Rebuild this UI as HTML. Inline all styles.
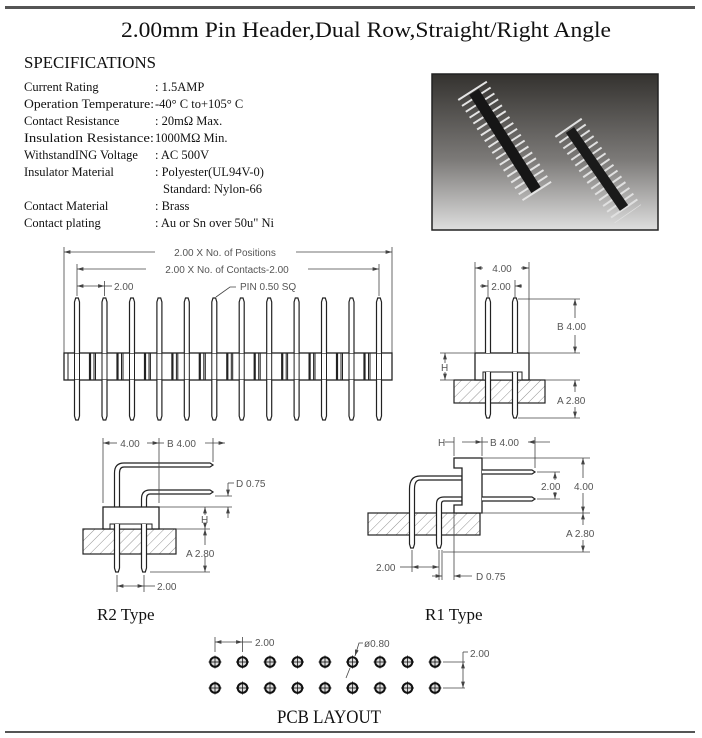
<!DOCTYPE html>
<html><head><meta charset="utf-8"><style>
html,body{margin:0;padding:0;background:#fff;}
svg{display:block;}
.t{font-family:"Liberation Serif","Noto Serif CJK SC",serif;fill:#111;}
.d{font-family:"Liberation Sans",sans-serif;font-size:10px;fill:#555;}
</style></head><body>
<svg width="702" height="738" viewBox="0 0 702 738" xmlns="http://www.w3.org/2000/svg">
<defs>
<linearGradient id="pg" x1="0" y1="0" x2="0" y2="1"><stop offset="0" stop-color="#34322f"/><stop offset="0.55" stop-color="#7c7a78"/><stop offset="1" stop-color="#dedede"/></linearGradient>
<pattern id="hatch" width="7" height="7" patternUnits="userSpaceOnUse" patternTransform="rotate(45)"><line x1="0" y1="0" x2="0" y2="7" stroke="#777" stroke-width="0.8"/></pattern>
<g id="pt"><path d="M-2.5,353 V302 L-1.3,298 H1.3 L2.5,302 V353" fill="#fff" stroke="#222" stroke-width="1.2"/></g>
<g id="pb"><path d="M-2.5,380 V416 L-1.3,420 H1.3 L2.5,416 V380" fill="#fff" stroke="#222" stroke-width="1.2"/></g>
<g id="bs" stroke="#222"><line x1="-9" y1="353" x2="-9" y2="380" stroke-width="1"/><line x1="-2.5" y1="353" x2="-2.5" y2="380" stroke-width="1"/><line x1="2.5" y1="353" x2="2.5" y2="380" stroke-width="1"/><line x1="13" y1="353" x2="13" y2="380" stroke-width="2.2"/><line x1="17" y1="353" x2="17" y2="380" stroke-width="1"/></g>
<g id="bsl" stroke="#222"><line x1="-9" y1="353" x2="-9" y2="380" stroke-width="1"/><line x1="-2.5" y1="353" x2="-2.5" y2="380" stroke-width="1"/><line x1="2.5" y1="353" x2="2.5" y2="380" stroke-width="1"/></g>
<g id="hole"><circle r="4.8" fill="#ddd" stroke="#111" stroke-width="2"/><line x1="-6.5" y1="0" x2="6.5" y2="0" stroke="#111" stroke-width="0.8"/><line x1="0" y1="-6.5" x2="0" y2="6.5" stroke="#111" stroke-width="0.8"/></g>
<marker id="ar" viewBox="0 0 10 6" refX="10" refY="3" markerWidth="8" markerHeight="5" orient="auto-start-reverse"><path d="M0,0 L10,3 L0,6z" fill="#444"/></marker>
</defs>

<rect x="5" y="6" width="690" height="3" fill="#555"/>
<rect x="5" y="731" width="690" height="2" fill="#555"/>

<text class="t" x="366" y="37" font-size="22" text-anchor="middle" textLength="490" lengthAdjust="spacingAndGlyphs">2.00mm Pin Header,Dual Row,Straight/Right Angle</text>
<text class="t" x="24" y="68" font-size="17" textLength="132" lengthAdjust="spacingAndGlyphs">SPECIFICATIONS</text>

<g class="t" font-size="12.5">
<text x="24" y="91">Current Rating</text><text x="155" y="91">: 1.5AMP</text>
<text x="24" y="108" textLength="130" lengthAdjust="spacingAndGlyphs">Operation Temperature:</text><text x="155" y="108">-40° C to+105° C</text>
<text x="24" y="125">Contact Resistance</text><text x="155" y="125">: 20mΩ Max.</text>
<text x="24" y="142" textLength="130" lengthAdjust="spacingAndGlyphs">Insulation Resistance:</text><text x="155" y="142">1000MΩ Min.</text>
<text x="24" y="159">WithstandING Voltage</text><text x="155" y="159">: AC 500V</text>
<text x="24" y="176">Insulator Material</text><text x="155" y="176">: Polyester(UL94V-0)</text>
<text x="163" y="193">Standard: Nylon-66</text>
<text x="24" y="210">Contact Material</text><text x="155" y="210">: Brass</text>
<text x="24" y="227">Contact plating</text><text x="155" y="227">: Au or Sn over 50u" Ni</text>
</g>

<!-- photo -->
<rect x="432" y="74" width="226" height="156" fill="url(#pg)" stroke="#222" stroke-width="1.5"/>
<g>
<line x1="472" y1="90" x2="540" y2="196" stroke="#e4e4e4" stroke-width="34" stroke-dasharray="2 5"/>
<line x1="474" y1="92" x2="536" y2="190" stroke="#161616" stroke-width="11"/>
<line x1="568" y1="127" x2="628" y2="214" stroke="#e0e0e0" stroke-width="32" stroke-dasharray="2 5"/>
<line x1="570" y1="130" x2="624" y2="208" stroke="#1a1a1a" stroke-width="10"/>
</g>

<!-- front view -->
<g stroke="#444" stroke-width="0.8" fill="none">
<line x1="64" y1="247" x2="64" y2="353"/><line x1="392" y1="247" x2="392" y2="353"/>
<line x1="64" y1="252" x2="155" y2="252" marker-start="url(#ar)"/><line x1="296" y1="252" x2="392" y2="252" marker-end="url(#ar)"/>
<line x1="77" y1="264" x2="77" y2="296"/><line x1="379" y1="264" x2="379" y2="296"/>
<line x1="77" y1="269" x2="146" y2="269" marker-start="url(#ar)"/><line x1="308" y1="269" x2="379" y2="269" marker-end="url(#ar)"/>
<line x1="104.5" y1="281" x2="104.5" y2="296"/>
<line x1="77" y1="286" x2="104.5" y2="286" marker-start="url(#ar)" marker-end="url(#ar)"/><line x1="104.5" y1="286" x2="112" y2="286"/>
<path d="M236,287 H230 L216,297"/>
</g>
<text class="d" x="225" y="256" text-anchor="middle">2.00 X No. of Positions</text>
<text class="d" x="227" y="273" text-anchor="middle">2.00 X No. of Contacts-2.00</text>
<text class="d" x="114" y="290">2.00</text>
<text class="d" x="240" y="290">PIN 0.50 SQ</text>
<rect x="64" y="353" width="328" height="27" fill="#fff" stroke="#222" stroke-width="1.3"/>
<g>
<use href="#bs" x="77"/><use href="#bs" x="104.5"/><use href="#bs" x="132"/><use href="#bs" x="159.4"/><use href="#bs" x="186.8"/><use href="#bs" x="214.3"/><use href="#bs" x="241.7"/><use href="#bs" x="269.2"/><use href="#bs" x="296.6"/><use href="#bs" x="324"/><use href="#bs" x="351.5"/><use href="#bsl" x="379"/>
<use href="#pt" x="77"/><use href="#pt" x="104.5"/><use href="#pt" x="132"/><use href="#pt" x="159.4"/><use href="#pt" x="186.8"/><use href="#pt" x="214.3"/><use href="#pt" x="241.7"/><use href="#pt" x="269.2"/><use href="#pt" x="296.6"/><use href="#pt" x="324"/><use href="#pt" x="351.5"/><use href="#pt" x="379"/>
<use href="#pb" x="77"/><use href="#pb" x="104.5"/><use href="#pb" x="132"/><use href="#pb" x="159.4"/><use href="#pb" x="186.8"/><use href="#pb" x="214.3"/><use href="#pb" x="241.7"/><use href="#pb" x="269.2"/><use href="#pb" x="296.6"/><use href="#pb" x="324"/><use href="#pb" x="351.5"/><use href="#pb" x="379"/>
</g>

<!-- side straight view -->
<rect x="454" y="380" width="91" height="23" fill="url(#hatch)" stroke="#222" stroke-width="1.2"/>
<rect x="475" y="353" width="54" height="27" fill="#fff" stroke="#222" stroke-width="1.3"/>
<rect x="483" y="372" width="39" height="8" fill="#fff" stroke="#222" stroke-width="1"/>
<use href="#pt" x="488"/><use href="#pt" x="515"/>
<path d="M485.5,372 V414 L486.7,418 H489.3 L490.5,414 V372" fill="#fff" stroke="#222" stroke-width="1.2"/>
<path d="M512.5,372 V414 L513.7,418 H516.3 L517.5,414 V372" fill="#fff" stroke="#222" stroke-width="1.2"/>
<g stroke="#444" stroke-width="0.8" fill="none">
<line x1="475" y1="262" x2="475" y2="353"/><line x1="529" y1="262" x2="529" y2="353"/>
<line x1="475" y1="268" x2="483" y2="268" marker-start="url(#ar)"/><line x1="521" y1="268" x2="529" y2="268" marker-end="url(#ar)"/>
<line x1="488" y1="280" x2="488" y2="298"/><line x1="515" y1="280" x2="515" y2="298"/>
<line x1="480" y1="286" x2="488" y2="286" marker-end="url(#ar)"/><line x1="515" y1="286" x2="522" y2="286" marker-start="url(#ar)"/>
<line x1="518" y1="299" x2="580" y2="299"/><line x1="529" y1="353" x2="580" y2="353"/><line x1="545" y1="380" x2="580" y2="380"/><line x1="518" y1="418" x2="580" y2="418"/>
<line x1="575" y1="299" x2="575" y2="318" marker-start="url(#ar)"/><line x1="575" y1="335" x2="575" y2="353" marker-end="url(#ar)"/>
<line x1="575" y1="380" x2="575" y2="392" marker-start="url(#ar)"/><line x1="575" y1="407" x2="575" y2="418" marker-end="url(#ar)"/>
<line x1="440" y1="353" x2="475" y2="353"/><line x1="440" y1="380" x2="454" y2="380"/>
<line x1="445" y1="353" x2="445" y2="363" marker-start="url(#ar)"/><line x1="445" y1="372" x2="445" y2="380" marker-end="url(#ar)"/>
</g>
<text class="d" x="502" y="272" text-anchor="middle">4.00</text>
<text class="d" x="501" y="290" text-anchor="middle">2.00</text>
<text class="d" x="557" y="330">B 4.00</text>
<text class="d" x="557" y="404">A 2.80</text>
<text class="d" x="441" y="371">H</text>

<!-- R2 -->
<rect x="83" y="529" width="93" height="25" fill="url(#hatch)" stroke="#222" stroke-width="1.2"/>
<path d="M114.5,507 V473 Q114.5,463 124,463 H210 L213,465 L210,467 H124 Q119.5,467 119.5,473 V507" fill="#fff" stroke="#222" stroke-width="1.2"/>
<path d="M141.5,507 V499 Q141.5,490 150,490 H210 L213,492 L210,494 H150 Q146.5,494 146.5,499 V507" fill="#fff" stroke="#222" stroke-width="1.2"/>
<rect x="103" y="507" width="56" height="22" fill="#fff" stroke="#222" stroke-width="1.3"/>
<rect x="110" y="524" width="42" height="5" fill="#fff" stroke="#222" stroke-width="1"/>
<path d="M114.5,524 V568 L115.7,572 H118.3 L119.5,568 V524" fill="#fff" stroke="#222" stroke-width="1.2"/>
<path d="M141.5,524 V568 L142.7,572 H145.3 L146.5,568 V524" fill="#fff" stroke="#222" stroke-width="1.2"/>
<g stroke="#444" stroke-width="0.8" fill="none">
<line x1="103" y1="438" x2="103" y2="503"/><line x1="159" y1="438" x2="159" y2="503"/><line x1="213" y1="438" x2="213" y2="462"/>
<line x1="103" y1="443" x2="117" y2="443" marker-start="url(#ar)"/><line x1="147" y1="443" x2="159" y2="443" marker-end="url(#ar)"/>
<line x1="159" y1="443" x2="164" y2="443"/><line x1="205" y1="443" x2="225" y2="443" marker-end="url(#ar)"/>
<line x1="215" y1="496" x2="232" y2="496"/><line x1="159" y1="507" x2="232" y2="507"/><line x1="176" y1="529" x2="210" y2="529"/><line x1="150" y1="572" x2="210" y2="572"/>
<line x1="228" y1="483" x2="228" y2="496" marker-end="url(#ar)"/><line x1="228" y1="507" x2="228" y2="518" marker-start="url(#ar)"/><line x1="228" y1="483" x2="234" y2="483"/>
<line x1="205" y1="507" x2="205" y2="515" marker-start="url(#ar)"/><line x1="205" y1="523" x2="205" y2="529" marker-end="url(#ar)"/>
<line x1="205" y1="529" x2="205" y2="545" marker-start="url(#ar)"/><line x1="205" y1="556" x2="205" y2="572" marker-end="url(#ar)"/>
<line x1="117" y1="575" x2="117" y2="592"/><line x1="144" y1="575" x2="144" y2="592"/>
<line x1="117" y1="586" x2="144" y2="586" marker-start="url(#ar)" marker-end="url(#ar)"/><line x1="144" y1="586" x2="155" y2="586"/>
</g>
<text class="d" x="130" y="447" text-anchor="middle">4.00</text>
<text class="d" x="167" y="447">B 4.00</text>
<text class="d" x="236" y="487">D 0.75</text>
<text class="d" x="201" y="523">H</text>
<text class="d" x="186" y="557">A 2.80</text>
<text class="d" x="157" y="590">2.00</text>
<text class="t" x="97" y="620" font-size="17">R2 Type</text>

<!-- R1 -->
<rect x="368" y="513" width="112" height="22" fill="url(#hatch)" stroke="#222" stroke-width="1.2"/>
<path d="M409.5,513 V489 Q409.5,476 420,476 H462 V480 H420 Q414.5,480 414.5,489 V513" fill="#fff" stroke="#222" stroke-width="1.2"/>
<path d="M436.5,513 V504 Q436.5,497 444,497 H462 V501 H444 Q441.5,501 441.5,504 V513" fill="#fff" stroke="#222" stroke-width="1.2"/>
<path d="M454,458 H482 V513 H454 V505 H462 V468 H454 Z" fill="#fff" stroke="#222" stroke-width="1.3"/>
<path d="M482,470 H532 L535,472 L532,474 H482" fill="#fff" stroke="#222" stroke-width="1.2"/>
<path d="M482,497 H532 L535,499 L532,501 H482" fill="#fff" stroke="#222" stroke-width="1.2"/>
<path d="M409.5,513 V544 L410.7,548 H413.3 L414.5,544 V513" fill="#fff" stroke="#222" stroke-width="1.2"/>
<path d="M436.5,513 V544 L437.7,548 H440.3 L441.5,544 V513" fill="#fff" stroke="#222" stroke-width="1.2"/>
<g stroke="#444" stroke-width="0.8" fill="none">
<line x1="454" y1="437" x2="454" y2="456"/><line x1="482" y1="437" x2="482" y2="456"/><line x1="535" y1="437" x2="535" y2="468"/>
<line x1="445" y1="442" x2="454" y2="442"/><line x1="462" y1="442" x2="482" y2="442" marker-end="url(#ar)"/>
<line x1="482" y1="442" x2="488" y2="442"/><line x1="528" y1="442" x2="550" y2="442" marker-start="url(#ar)"/>
<line x1="482" y1="458" x2="590" y2="458"/><line x1="537" y1="472" x2="560" y2="472"/><line x1="537" y1="499" x2="560" y2="499"/>
<line x1="480" y1="513" x2="590" y2="513"/><line x1="443" y1="552" x2="590" y2="552"/>
<line x1="555" y1="472" x2="555" y2="480" marker-start="url(#ar)"/><line x1="555" y1="492" x2="555" y2="499" marker-end="url(#ar)"/>
<line x1="583" y1="458" x2="583" y2="478" marker-start="url(#ar)"/><line x1="583" y1="493" x2="583" y2="513" marker-end="url(#ar)"/>
<line x1="583" y1="513" x2="583" y2="525" marker-start="url(#ar)"/><line x1="583" y1="540" x2="583" y2="552" marker-end="url(#ar)"/>
<line x1="412" y1="550" x2="412" y2="572"/><line x1="439" y1="550" x2="439" y2="580"/><line x1="442" y1="550" x2="442" y2="580"/><line x1="454" y1="513" x2="454" y2="580"/>
<line x1="400" y1="567" x2="412" y2="567"/><line x1="412" y1="567" x2="439" y2="567" marker-start="url(#ar)" marker-end="url(#ar)"/>
<line x1="432" y1="576" x2="442" y2="576" marker-end="url(#ar)"/><line x1="454" y1="576" x2="472" y2="576" marker-start="url(#ar)"/>
</g>
<text class="d" x="438" y="446">H</text>
<text class="d" x="490" y="446">B 4.00</text>
<text class="d" x="541" y="490">2.00</text>
<text class="d" x="574" y="490">4.00</text>
<text class="d" x="566" y="537">A 2.80</text>
<text class="d" x="376" y="571">2.00</text>
<text class="d" x="476" y="580">D 0.75</text>
<text class="t" x="425" y="620" font-size="17">R1 Type</text>

<!-- PCB -->
<g>
<use href="#hole" x="215" y="662"/><use href="#hole" x="242.5" y="662"/><use href="#hole" x="270" y="662"/><use href="#hole" x="297.5" y="662"/><use href="#hole" x="325" y="662"/><use href="#hole" x="352.5" y="662"/><use href="#hole" x="380" y="662"/><use href="#hole" x="407.5" y="662"/><use href="#hole" x="435" y="662"/>
<use href="#hole" x="215" y="688"/><use href="#hole" x="242.5" y="688"/><use href="#hole" x="270" y="688"/><use href="#hole" x="297.5" y="688"/><use href="#hole" x="325" y="688"/><use href="#hole" x="352.5" y="688"/><use href="#hole" x="380" y="688"/><use href="#hole" x="407.5" y="688"/><use href="#hole" x="435" y="688"/>
</g>
<g stroke="#444" stroke-width="0.8" fill="none">
<line x1="215" y1="637" x2="215" y2="652"/><line x1="242.5" y1="637" x2="242.5" y2="652"/>
<line x1="215" y1="642" x2="242.5" y2="642" marker-start="url(#ar)" marker-end="url(#ar)"/><line x1="242.5" y1="642" x2="252" y2="642"/>
<path d="M363,643 H359 L355,656" marker-end="url(#ar)"/><line x1="350" y1="668" x2="346" y2="678"/>
<line x1="443" y1="662" x2="465" y2="662"/><line x1="443" y1="688" x2="465" y2="688"/>
<line x1="463" y1="652" x2="463" y2="662"/><line x1="463" y1="652" x2="468" y2="652"/>
<line x1="463" y1="662" x2="463" y2="688" marker-start="url(#ar)" marker-end="url(#ar)"/>
</g>
<text class="d" x="255" y="646">2.00</text>
<text class="d" x="364" y="647">ø0.80</text>
<text class="d" x="470" y="657">2.00</text>
<text class="t" x="277" y="723" font-size="19" textLength="104" lengthAdjust="spacingAndGlyphs">PCB LAYOUT</text>
</svg>
</body></html>
